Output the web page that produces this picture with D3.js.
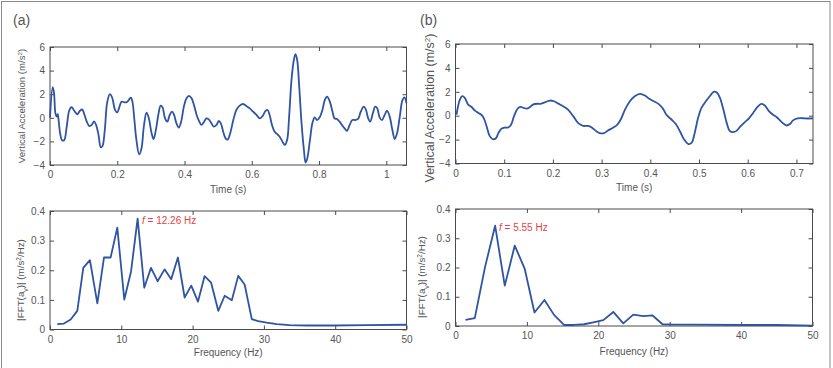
<!DOCTYPE html>
<html lang="en">
  <head>
    <meta charset="UTF-8" />
    <title>Vertical acceleration and FFT</title>
    <script src="https://d3js.org/d3.v7.min.js"></script>
    <style>
      body { margin: 0; background: #fff; }
      text { font-family: "Liberation Sans", Arial, sans-serif; fill: #555; }
    </style>
  </head>
  <body>
    <svg width="833" height="368"></svg>

    <script>
      // (a) time signal
      const timeA = [0, 0.008, 0.012, 0.016, 0.02, 0.023, 0.026, 0.03, 0.036, 0.042, 0.05, 0.057, 0.064, 0.072, 0.081, 0.089, 0.096, 0.102, 0.109, 0.117, 0.124, 0.131, 0.137, 0.144, 0.151, 0.156, 0.163, 0.17, 0.178, 0.185, 0.193, 0.2, 0.213, 0.223, 0.23, 0.24, 0.245, 0.25, 0.257, 0.265, 0.272, 0.279, 0.287, 0.294, 0.302, 0.308, 0.315, 0.322, 0.329, 0.335, 0.342, 0.349, 0.356, 0.363, 0.369, 0.376, 0.383, 0.39, 0.398, 0.406, 0.413, 0.421, 0.428, 0.436, 0.444, 0.45, 0.457, 0.465, 0.472, 0.48, 0.487, 0.495, 0.502, 0.508, 0.515, 0.522, 0.528, 0.535, 0.545, 0.554, 0.564, 0.574, 0.584, 0.594, 0.604, 0.614, 0.624, 0.632, 0.641, 0.647, 0.653, 0.66, 0.668, 0.675, 0.683, 0.691, 0.698, 0.705, 0.711, 0.718, 0.725, 0.73, 0.735, 0.741, 0.748, 0.755, 0.76, 0.765, 0.773, 0.78, 0.787, 0.794, 0.802, 0.81, 0.817, 0.824, 0.832, 0.84, 0.846, 0.853, 0.861, 0.868, 0.876, 0.883, 0.891, 0.899, 0.908, 0.916, 0.924, 0.933, 0.939, 0.946, 0.952, 0.96, 0.967, 0.973, 0.98, 0.987, 0.995, 1.002, 1.01, 1.018, 1.025, 1.032, 1.04, 1.048, 1.054, 1.06];
      const accA = [0, 2.6, 2.1, 0.4, 0.1, 0.3, -0.3, -1.3, -1.9, -1.9, -0.7, 0.6, 0.9, 0.6, 0.3, 0.6, 0.7, 0.3, -0.3, -0.7, -0.6, -0.3, -0.6, -1.4, -2.5, -2.4, -1.0, 1.3, 2.0, 1.7, 0.7, 0.46, 1.37, 1.3, 1.37, 1.7, 1.37, 0.1, -1.9, -3.1, -2.6, -0.75, 0.43, -0.05, -1.3, -1.8, -1.0, 0.24, 1.03, 0.86, -0.05, -0.33, 0.24, 0.52, 0.24, -0.47, -0.84, -0.33, 0.94, 1.65, 1.85, 1.65, 1.08, 0.24, -0.33, -0.6, -0.4, -0.05, -0.13, -0.47, -0.75, -0.6, -0.27, -0.47, -1.18, -1.74, -1.85, -1.4, -0.19, 0.66, 1.03, 1.17, 1.0, 0.8, 0.52, 0.24, -0.05, 0.15, 0.58, 0.66, 0.24, -0.6, -1.18, -1.37, -1.6, -2.02, -2.3, -1.88, 0.1, 3.2, 4.9, 5.4, 4.9, 2.64, -0.47, -2.73, -3.8, -3.44, -1.88, -0.47, 0.04, -0.19, 0.04, 0.66, 1.5, 1.8, 1.37, 0.52, -0.05, -0.1, -0.33, -0.6, -0.9, -1.1, -0.6, -0.19, -0.19, -0.1, 0.52, 0.94, 0.72, -0.05, -0.33, 0.38, 0.94, 0.8, 0.04, -0.19, 0.24, 0.6, 0.1, -1.03, -1.8, -1.3, 0.1, 1.5, 1.73, 1.23];

      // (b) time signal
      const timeB = [0.002, 0.009, 0.014, 0.019, 0.026, 0.033, 0.04, 0.047, 0.053, 0.058, 0.064, 0.07, 0.077, 0.083, 0.088, 0.094, 0.101, 0.108, 0.114, 0.12, 0.127, 0.133, 0.14, 0.146, 0.153, 0.159, 0.168, 0.175, 0.18, 0.187, 0.194, 0.202, 0.211, 0.221, 0.231, 0.242, 0.252, 0.262, 0.272, 0.279, 0.288, 0.296, 0.305, 0.313, 0.324, 0.332, 0.339, 0.348, 0.358, 0.368, 0.379, 0.389, 0.398, 0.407, 0.416, 0.425, 0.433, 0.444, 0.452, 0.461, 0.469, 0.478, 0.485, 0.491, 0.498, 0.505, 0.514, 0.522, 0.53, 0.537, 0.543, 0.55, 0.557, 0.563, 0.57, 0.577, 0.585, 0.594, 0.603, 0.611, 0.62, 0.628, 0.635, 0.644, 0.652, 0.659, 0.666, 0.674, 0.68, 0.687, 0.693, 0.702, 0.71, 0.717, 0.734];
      const accB = [0.08, 1.35, 1.63, 1.5, 0.93, 0.73, 0.42, 0.23, 0.08, -0.2, -0.9, -1.69, -1.97, -1.89, -1.46, -1.1, -0.99, -0.99, -0.76, -0.06, 0.56, 0.73, 0.65, 0.59, 0.73, 0.93, 1.0, 0.99, 1.07, 1.18, 1.27, 1.21, 1.01, 0.79, 0.51, -0.06, -0.62, -0.85, -0.85, -0.96, -1.27, -1.46, -1.46, -1.24, -0.99, -0.76, -0.34, 0.51, 1.21, 1.63, 1.83, 1.69, 1.41, 1.21, 1.01, 0.65, 0.08, -0.34, -0.68, -1.32, -1.97, -2.37, -2.25, -1.46, -0.2, 0.65, 1.21, 1.63, 2.0, 1.92, 1.49, 0.51, -0.62, -1.27, -1.38, -1.27, -0.9, -0.54, -0.2, 0.23, 0.73, 0.99, 0.85, 0.37, 0.08, -0.11, -0.39, -0.68, -0.82, -0.68, -0.39, -0.23, -0.2, -0.23, -0.23];

      // FFT spectra
      const freqA = [1.03, 1.96, 2.9, 3.83, 4.67, 5.6, 6.64, 7.57, 8.5, 9.44, 10.42, 11.36, 12.29, 13.22, 14.16, 15.09, 16.07, 17.0, 17.94, 18.88, 19.81, 20.75, 21.68, 22.6, 23.6, 24.5, 25.5, 26.4, 27.3, 28.3, 29.2, 30.4, 31.8, 33.6, 36, 39.7, 44.4, 50];
      const fftA = [0.018, 0.02, 0.034, 0.063, 0.208, 0.234, 0.088, 0.243, 0.243, 0.344, 0.101, 0.195, 0.374, 0.141, 0.208, 0.163, 0.203, 0.17, 0.243, 0.108, 0.148, 0.094, 0.18, 0.158, 0.063, 0.114, 0.099, 0.181, 0.152, 0.035, 0.028, 0.023, 0.018, 0.015, 0.0135, 0.0135, 0.015, 0.016];
      const freqB = [1.4, 2.7, 4.15, 5.55, 6.9, 8.3, 9.7, 11.06, 12.46, 13.8, 15.2, 16.6, 18.0, 19.3, 20.7, 22.1, 23.5, 24.9, 26.3, 27.6, 29.0, 30.5, 33.3, 40.3, 45, 50];
      const fftB = [0.021, 0.027, 0.203, 0.343, 0.138, 0.275, 0.195, 0.046, 0.089, 0.038, 0.0035, 0.0035, 0.006, 0.0125, 0.02, 0.048, 0.009, 0.039, 0.034, 0.036, 0.006, 0.0045, 0.0045, 0.0035, 0.0035, 0.001];

      const ticksTimeA = [0, 0.2, 0.4, 0.6, 0.8, 1];
      const ticksTimeB = [0, 0.1, 0.2, 0.3, 0.4, 0.5, 0.6, 0.7];
      const ticksAcc = [-4, -2, 0, 2, 4, 6];
      const ticksFreq = [0, 10, 20, 30, 40, 50];
      const ticksFft = [0, 0.1, 0.2, 0.3, 0.4];

      const svg = d3.select("svg");
      const lineColor = "#2f54a3";
      const boxColor = "#4a4a4a";

      // outer frame of the figure
      svg.append("rect")
        .attr("x", 1.5).attr("y", 1.5)
        .attr("width", 828.5).attr("height", 400)
        .attr("fill", "none").attr("stroke", "#8a8a8a");

      function drawPanel(p) {
        const x = d3.scaleLinear().domain(p.xDomain).range([p.left, p.right]);
        const y = d3.scaleLinear().domain(p.yDomain).range([p.bottom, p.top]);
        const g = svg.append("g");

        const tk = (a) => a.tickSizeInner(-4).tickSizeOuter(0);

        const bx = g.append("g").attr("transform", `translate(0,${p.bottom})`)
          .call(tk(d3.axisBottom(x).tickValues(p.xTicks).tickFormat(d3.format("~g")).tickPadding(6)));
        const tx = g.append("g").attr("transform", `translate(0,${p.top})`)
          .call(tk(d3.axisTop(x).tickValues(p.xTicks).tickFormat("")));
        const ly = g.append("g").attr("transform", `translate(${p.left},0)`)
          .call(tk(d3.axisLeft(y).tickValues(p.yTicks).tickFormat(d3.format("~g")).tickPadding(5)));
        const ry = g.append("g").attr("transform", `translate(${p.right},0)`)
          .call(tk(d3.axisRight(y).tickValues(p.yTicks).tickFormat("")));

        [bx, tx, ly, ry].forEach(a => {
          a.select(".domain").remove();
          a.selectAll("line").attr("stroke", boxColor);
          a.selectAll("text").attr("font-size", 10).attr("fill", "#555")
            .attr("font-family", "Liberation Sans, Arial, sans-serif");
        });

        g.append("rect")
          .attr("x", p.left).attr("y", p.top)
          .attr("width", p.right - p.left).attr("height", p.bottom - p.top)
          .attr("fill", "none").attr("stroke", boxColor).attr("stroke-width", 1);

        const pts = p.xs.map((v, i) => [v, p.ys[i]]);
        g.append("path")
          .datum(pts)
          .attr("fill", "none")
          .attr("stroke", lineColor)
          .attr("stroke-width", 1.8)
          .attr("stroke-linejoin", "round")
          .attr("d", d3.line().x(d => x(d[0])).y(d => y(d[1])).curve(p.curve));

        g.append("text")
          .attr("x", (p.left + p.right) / 2).attr("y", p.xLabelY)
          .attr("text-anchor", "middle").attr("font-size", 10)
          .text(p.xLabel);

        const yl = g.append("text")
          .attr("transform", `translate(${p.yLabelX},${p.yLabelY}) rotate(-90)`)
          .attr("text-anchor", "middle").attr("font-size", p.yLabelSize);
        p.yLabel(yl);

        if (p.note) {
          const t = g.append("text")
            .attr("x", p.note.x).attr("y", p.note.y)
            .attr("font-size", 10).style("fill", "#e8403f");
          t.append("tspan").attr("font-style", "italic").text("f");
          t.append("tspan").text(" = " + p.note.text);
        }
      }

      function accLabel(t) {
        t.append("tspan").text("Vertical Acceleration (m/s");
        t.append("tspan").attr("baseline-shift", "super").attr("font-size", "0.65em").text("2");
        t.append("tspan").text(")");
      }
      function fftLabel(t) {
        t.append("tspan").text("|FFT(a");
        t.append("tspan").attr("baseline-shift", "sub").attr("font-size", "0.7em").text("v");
        t.append("tspan").text(")| (m/s");
        t.append("tspan").attr("baseline-shift", "super").attr("font-size", "0.65em").text("2");
        t.append("tspan").text("/Hz)");
      }

      svg.append("text").attr("x", 13).attr("y", 25).attr("font-size", 14).text("(a)");
      svg.append("text").attr("x", 420).attr("y", 25).attr("font-size", 14).text("(b)");

      drawPanel({
        left: 50, right: 406.5, top: 47, bottom: 165,
        xDomain: [0, 1.06], yDomain: [-4, 6],
        xTicks: ticksTimeA, yTicks: ticksAcc,
        xs: timeA, ys: accA, curve: d3.curveCatmullRom,
        xLabel: "Time (s)", xLabelY: 193,
        yLabel: accLabel, yLabelX: 25, yLabelY: 106, yLabelSize: 9.6
      });

      drawPanel({
        left: 455.5, right: 813, top: 44, bottom: 163.5,
        xDomain: [0, 0.734], yDomain: [-4, 6],
        xTicks: ticksTimeB, yTicks: ticksAcc,
        xs: timeB, ys: accB, curve: d3.curveCatmullRom,
        xLabel: "Time (s)", xLabelY: 191,
        yLabel: accLabel, yLabelX: 434, yLabelY: 108, yLabelSize: 12.5
      });

      drawPanel({
        left: 50, right: 406.5, top: 211, bottom: 329.5,
        xDomain: [0, 50], yDomain: [0, 0.4],
        xTicks: ticksFreq, yTicks: ticksFft,
        xs: freqA, ys: fftA, curve: d3.curveLinear,
        xLabel: "Frequency (Hz)", xLabelY: 356,
        yLabel: fftLabel, yLabelX: 24, yLabelY: 280, yLabelSize: 9.8,
        note: { x: 142, y: 223.5, text: "12.26 Hz" }
      });

      drawPanel({
        left: 455.5, right: 812.5, top: 209, bottom: 326,
        xDomain: [0, 50], yDomain: [0, 0.4],
        xTicks: ticksFreq, yTicks: ticksFft,
        xs: freqB, ys: fftB, curve: d3.curveLinear,
        xLabel: "Frequency (Hz)", xLabelY: 355,
        yLabel: fftLabel, yLabelX: 425, yLabelY: 277, yLabelSize: 9.8,
        note: { x: 499, y: 231, text: "5.55 Hz" }
      });
    </script>
  </body>
</html>
